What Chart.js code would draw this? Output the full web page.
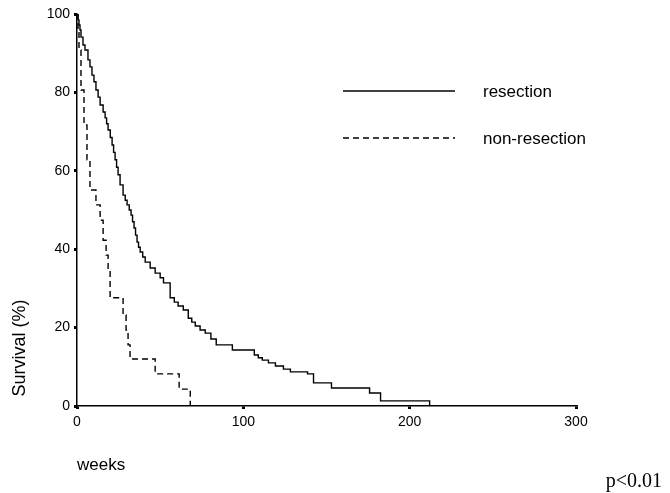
<!DOCTYPE html>
<html>
<head>
<meta charset="utf-8">
<script src="https://cdn.jsdelivr.net/npm/chart.js@4"></script>
<style>
  html, body { margin:0; padding:0; background:#fff; }
  #wrap { width:670px; height:493px; position:relative; }
</style>
</head>
<body>
<div id="wrap"><canvas id="chart-km"></canvas></div>
<script>
(function(){

  const xTicks = [0, 100, 200, 300];
  const yTicks = [0, 20, 40, 60, 80, 100];

  const resectionWeeks = [0, 0.6, 1.2, 1.8, 2.4, 3.6, 4.8, 6.6, 7.8, 9.0, 10.2, 11.4, 12.7, 13.9, 15.7, 16.9, 17.8, 18.7, 20.0, 21.1, 22.0, 22.9, 23.8, 24.7, 25.9, 27.7, 29.0, 30.1, 31.4, 32.5, 33.4, 34.3, 35.2, 36.1, 37.0, 38.0, 39.5, 41.0, 44.0, 47.0, 50.0, 52.0, 56.0, 58.5, 60.8, 63.9, 66.9, 69.0, 71.1, 74.0, 77.1, 80.5, 83.7, 93.4, 106.6, 109.0, 111.4, 115.1, 119.3, 124.1, 128.3, 138.6, 142.2, 153.0, 175.9, 182.5, 212];
  const resectionSurvival = [100, 98.5, 97.2, 95.9, 94.1, 92.1, 90.8, 88.3, 86.5, 84.4, 82.7, 80.6, 78.8, 76.8, 75.0, 73.5, 72.0, 70.4, 68.5, 66.6, 64.7, 62.8, 60.9, 59.0, 56.4, 53.8, 52.5, 51.3, 50.0, 48.7, 47.0, 45.4, 43.6, 41.8, 40.5, 39.3, 38.0, 36.7, 35.2, 33.9, 32.7, 31.4, 27.6, 26.5, 25.5, 24.5, 22.4, 21.4, 20.4, 19.4, 18.6, 17.1, 15.6, 14.3, 13.0, 12.3, 11.7, 11.0, 10.2, 9.4, 8.7, 8.2, 5.9, 4.6, 3.3, 1.3, 0];

  const nonResectionWeeks = [0, 0.6, 1.2, 2.4, 4.2, 6.0, 7.8, 11.4, 13.9, 15.7, 17.5, 18.7, 19.9, 27.7, 29.5, 30.7, 31.9, 47.0, 61.4, 68.1];
  const nonResectionSurvival = [100, 95.9, 90.8, 80.6, 71.7, 62.8, 55.1, 51.3, 47.4, 42.3, 38.5, 34.7, 27.6, 23.2, 19.4, 15.6, 12.0, 8.2, 4.3, 0];

  const toPoints = (xs, ys) => xs.map((x, i) => ({ x:x, y:ys[i] }));

  const sans = '"Liberation Sans", Arial, sans-serif';

  // legend, axis titles and p-value drawn freely on the canvas
  const extras = {
    id:'extras',
    afterDraw(chart){
      const ctx = chart.ctx;
      ctx.save();
      ctx.strokeStyle = '#000';
      ctx.fillStyle = '#000';
      ctx.lineWidth = 1.5;

      ctx.beginPath();
      ctx.moveTo(343, 91); ctx.lineTo(455, 91);
      ctx.stroke();
      ctx.setLineDash([6, 4]);
      ctx.beginPath();
      ctx.moveTo(343, 138); ctx.lineTo(455, 138);
      ctx.stroke();
      ctx.setLineDash([]);

      ctx.font = '17px ' + sans;
      ctx.textBaseline = 'middle';
      ctx.textAlign = 'left';
      ctx.fillText('resection', 483, 92);
      ctx.fillText('non-resection', 483, 139);
      ctx.fillText('weeks', 77, 465);

      ctx.save();
      ctx.translate(20, 348);
      ctx.rotate(-Math.PI / 2);
      ctx.textAlign = 'center';
      ctx.font = '18px ' + sans;
      ctx.fillText('Survival (%)', 0, 0);
      ctx.restore();

      ctx.font = '20px "Liberation Serif", "Times New Roman", serif';
      ctx.textAlign = 'right';
      ctx.fillText('p<0.01', 662, 482);
      ctx.restore();
    }
  };

  const tickFont = { family:sans, size:14 };

  new Chart(document.getElementById('chart-km'), {
    type:'line',
    data:{
      datasets:[{
        label:'resection',
        data:toPoints(resectionWeeks, resectionSurvival),
        borderColor:'#000',
        borderWidth:1.4,
        stepped:true,
        pointRadius:0,
        fill:false
      },{
        label:'non-resection',
        data:toPoints(nonResectionWeeks, nonResectionSurvival),
        borderColor:'#000',
        borderWidth:1.4,
        borderDash:[6, 4],
        stepped:true,
        pointRadius:0,
        fill:false
      }]
    },
    options:{
      responsive:true, maintainAspectRatio:false, animation:false,
      layout:{ padding:{ left:0, top:14, right:94, bottom:0 } },
      plugins:{ legend:{ display:false }, tooltip:{ enabled:false } },
      scales:{
        x:{
          type:'linear', min:0, max:300,
          afterBuildTicks:s => { s.ticks = xTicks.map(v => ({ value:v })); },
          afterFit:s => { s.height = 87; },
          grid:{ display:true, drawOnChartArea:false, drawTicks:true, tickLength:3, lineWidth:3, color:'#000' },
          border:{ display:true, color:'#000', width:1.5 },
          ticks:{ font:tickFont, color:'#000', padding:5, maxRotation:0 }
        },
        y:{
          type:'linear', min:0, max:100,
          afterBuildTicks:s => { s.ticks = yTicks.map(v => ({ value:v })); },
          afterFit:s => { s.width = 77; },
          grid:{ display:true, drawOnChartArea:false, drawTicks:true, tickLength:3, lineWidth:3, color:'#000' },
          border:{ display:true, color:'#000', width:1.5 },
          ticks:{ font:tickFont, color:'#000', padding:4 }
        }
      }
    },
    plugins:[extras]
  });

})();
</script>
</body>
</html>
